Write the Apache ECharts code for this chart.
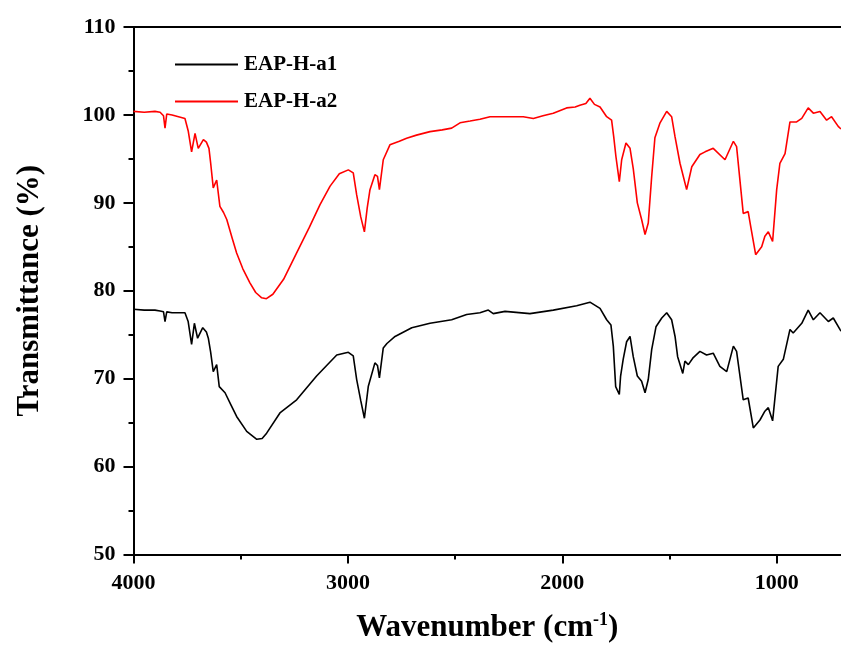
<!DOCTYPE html>
<html><head><meta charset="utf-8">
<script src="https://cdn.jsdelivr.net/npm/echarts@6/dist/echarts.min.js"></script>
<style>html,body{margin:0;padding:0;background:#fff}#c{width:841px;height:648px}</style>
</head><body><div id="c"></div>
<script>
// Wavenumber (cm-1) and transmittance (%)
var redWave = [4000,3950,3900,3876,3860,3853,3845,3820,3790,3760,3745,3729,3713,3698,3674,3660,3648,3640,3628,3612,3597,3580,3565,3540,3519,3490,3457,3430,3402,3380,3350,3300,3239,3180,3130,3083,3040,2998,2975,2959,2940,2923,2910,2897,2874,2862,2853,2835,2804,2760,2726,2680,2617,2560,2516,2477,2430,2384,2337,2280,2230,2182,2135,2090,2042,1980,1940,1918,1890,1871,1850,1824,1793,1770,1760,1750,1740,1734,1723,1703,1684,1669,1650,1630,1614,1599,1583,1568,1544,1513,1490,1474,1451,1420,1396,1358,1334,1296,1241,1202,1187,1156,1133,1121,1098,1070,1055,1039,1019,1000,985,961,938,907,883,853,829,798,767,744,713,700];
var redT = [100.4,100.3,100.4,100.3,99.9,98.5,100.1,100.0,99.8,99.6,98.2,95.8,97.9,96.2,97.2,96.9,96.2,94.5,91.7,92.6,89.6,88.9,88.1,86.0,84.3,82.5,80.9,79.8,79.2,79.1,79.6,81.3,84.3,87.2,89.8,91.9,93.3,93.75,93.4,90.9,88.4,86.7,89.4,91.5,93.2,93.0,91.5,94.9,96.6,97.0,97.35,97.7,98.1,98.3,98.5,99.1,99.3,99.5,99.8,99.8,99.8,99.8,99.6,99.9,100.2,100.8,100.9,101.1,101.3,101.9,101.2,100.9,99.8,99.4,97.5,95.3,93.5,92.4,94.9,96.8,96.2,93.9,90.0,88.1,86.4,87.7,93.0,97.4,99.1,100.4,99.8,97.5,94.5,91.5,94.1,95.5,95.8,96.2,94.9,97.0,96.4,88.8,89.0,87.3,84.1,85.0,86.2,86.7,85.6,91.5,94.5,95.6,99.2,99.2,99.6,100.8,100.2,100.4,99.4,99.8,98.7,98.4];
var blackWave = [4000,3950,3900,3876,3860,3853,3845,3820,3790,3760,3745,3729,3716,3701,3677,3660,3651,3640,3628,3612,3600,3573,3545,3519,3472,3425,3400,3379,3317,3239,3146,3052,2998,2975,2959,2940,2923,2905,2874,2862,2853,2835,2818,2780,2702,2617,2516,2446,2384,2345,2322,2267,2151,2042,1933,1871,1824,1793,1773,1762,1751,1734,1728,1716,1700,1684,1669,1650,1630,1614,1599,1583,1563,1536,1513,1490,1474,1462,1438,1428,1412,1389,1358,1327,1296,1265,1233,1202,1187,1156,1133,1109,1078,1055,1039,1019,993,969,938,923,883,853,829,798,759,736,705,700];
var blackT = [77.9,77.8,77.8,77.7,77.6,76.5,77.6,77.5,77.5,77.5,76.5,73.9,76.3,74.6,75.8,75.3,74.6,73.0,70.8,71.6,69.1,68.4,67.0,65.7,64.0,63.1,63.2,63.8,66.1,67.6,70.3,72.7,73.0,72.6,69.9,67.5,65.5,69.1,71.8,71.5,70.1,73.5,74.0,74.8,75.8,76.3,76.7,77.3,77.5,77.8,77.4,77.65,77.4,77.8,78.3,78.7,78.0,76.7,76.1,73.7,69.1,68.2,70.3,72.2,74.2,74.8,72.5,70.3,69.7,68.4,69.9,73.3,75.9,76.9,77.5,76.7,74.8,72.5,70.6,72.0,71.6,72.4,73.1,72.7,72.9,71.4,70.8,73.7,73.1,67.6,67.8,64.4,65.3,66.3,66.7,65.2,71.4,72.2,75.6,75.2,76.3,77.8,76.7,77.5,76.5,76.9,75.6,75.4];
var seriesNames = ['EAP-H-a1', 'EAP-H-a2'];
var xMajorTicks = [1000, 2000, 3000, 4000];
var xMinorTicks = [1500, 2500, 3500];
var yTicks = [50, 60, 70, 80, 90, 100, 110];

function zip(a, b) { return a.map(function (v, i) { return [v, b[i]]; }); }
function plain(v) { return String(v); }

var FONT = 'Liberation Serif';
var chart = echarts.init(document.getElementById('c'), null, { renderer: 'canvas' });
chart.setOption({
  animation: false,
  backgroundColor: '#fff',
  grid: { left: 133.5, right: 0, top: 27, bottom: 93, containLabel: false },
  legend: {
    orient: 'vertical', left: 170, top: 49, itemGap: 16,
    itemWidth: 63, itemHeight: 2, icon: 'rect',
    textStyle: { fontFamily: FONT, fontWeight: 'bold', fontSize: 21, color: '#000', padding: [0, 0, 0, 1] },
    data: seriesNames
  },
  xAxis: [{
    type: 'value', position: 'bottom', min: 700, max: 4000, inverse: true,
    name: 'Wavenumber (cm{sup|-1})', nameLocation: 'middle', nameGap: 57,
    nameTextStyle: {
      fontFamily: FONT, fontWeight: 'bold', fontSize: 31, color: '#000',
      rich: { sup: { fontFamily: FONT, fontWeight: 'bold', fontSize: 18, color: '#000', verticalAlign: 'top', padding: [0, 0, 14, 0] } }
    },
    axisLine: { show: true, lineStyle: { color: '#000', width: 2 } },
    axisTick: { show: true, inside: false, length: 9, lineStyle: { color: '#000', width: 2 }, customValues: xMajorTicks },
    axisLabel: { show: true, margin: 18, fontFamily: FONT, fontWeight: 'bold', fontSize: 22, color: '#000', customValues: xMajorTicks, formatter: plain },
    splitLine: { show: false }
  }, {
    type: 'value', position: 'bottom', min: 700, max: 4000, inverse: true,
    axisLine: { show: false },
    axisTick: { show: true, inside: false, length: 5, lineStyle: { color: '#000', width: 2 }, customValues: xMinorTicks },
    axisLabel: { show: false },
    splitLine: { show: false }
  }, {
    type: 'value', position: 'top', min: 700, max: 4000, inverse: true,
    axisLine: { show: true, lineStyle: { color: '#000', width: 2 } },
    axisTick: { show: false }, axisLabel: { show: false }, splitLine: { show: false }
  }],
  yAxis: {
    type: 'value', min: 50, max: 110, interval: 10, position: 'left',
    name: 'Transmittance (%)', nameLocation: 'middle', nameGap: 88, nameRotate: 90,
    nameTextStyle: { fontFamily: FONT, fontWeight: 'bold', fontSize: 31, color: '#000' },
    axisLine: { show: true, lineStyle: { color: '#000', width: 2 } },
    axisTick: { show: true, inside: false, length: 10, lineStyle: { color: '#000', width: 2 } },
    minorTick: { show: true, splitNumber: 2, length: 5, lineStyle: { color: '#000', width: 2 } },
    axisLabel: { margin: 18, fontFamily: FONT, fontWeight: 'bold', fontSize: 22, color: '#000',
      customValues: yTicks, formatter: plain },
    splitLine: { show: false }, minorSplitLine: { show: false }
  },
  series: [{
    name: seriesNames[0], type: 'line', xAxisIndex: 0, showSymbol: false, symbol: 'none',
    lineStyle: { color: '#000', width: 1.6 }, itemStyle: { color: '#000' },
    data: zip(blackWave, blackT)
  }, {
    name: seriesNames[1], type: 'line', xAxisIndex: 0, showSymbol: false, symbol: 'none',
    lineStyle: { color: '#ff0000', width: 1.6 }, itemStyle: { color: '#ff0000' },
    data: zip(redWave, redT)
  }]
});
</script></body></html>
